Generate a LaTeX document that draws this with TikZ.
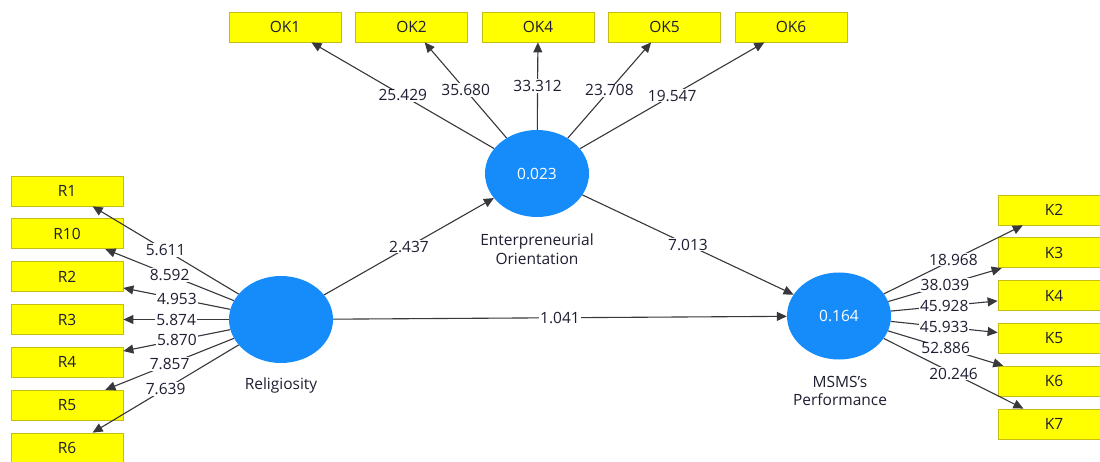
\documentclass[tikz,border=0pt]{standalone}
\usepackage{fontspec}
\setmainfont{Open Sans}
\usepackage{xcolor}
\usetikzlibrary{shapes,arrows.meta}

\definecolor{plsblue}{RGB}{22,140,250}
\definecolor{boxline}{RGB}{196,190,20}
\definecolor{boxfill}{RGB}{255,255,0}
\definecolor{linegray}{RGB}{55,55,60}
\definecolor{txtgray}{RGB}{30,30,50}

\begin{document}
\begin{tikzpicture}[x=1pt, y=-1pt, font=\fontsize{15.5}{18.5}\selectfont, text=txtgray]
\tikzstyle{indic}=[rectangle, draw=boxline, fill=boxfill, line width=0.8pt, minimum width=112pt, minimum height=30pt, inner sep=0pt]
\tikzstyle{latent}=[ellipse, fill=plsblue, minimum width=104pt, minimum height=87pt, inner sep=0pt, text=white]
\tikzstyle{drawstyle}=[draw=linegray, line width=1.1pt, -{Triangle[length=10pt, width=9pt]}]
\tikzstyle{val}=[fill=white, inner sep=1pt]

\useasboundingbox (0,0) rectangle (1100,462);

\node[latent] (Rel) at (281,319.5) {};
\node[latent] (EO) at (537,173.5) {0.023};
\node[latent] (Perf) at (839,316) {0.164};
\node (RelT) at (281,385) {Religiosity};
\node[align=center] (EOT) at (537,249) {Enterpreneurial\\Orientation};
\node[align=center] (PerfT) at (840,391) {MSMS's\\Performance};

% top indicators
\node[indic] (OK1) at (285,27) {OK1};
\node[indic] (OK2) at (411.5,27) {OK2};
\node[indic] (OK4) at (538,27) {OK4};
\node[indic] (OK5) at (664.5,27) {OK5};
\node[indic] (OK6) at (791,27) {OK6};
\draw[drawstyle] (EO) -- node[val] {25.429} (OK1);
\draw[drawstyle] (EO) -- node[val] {35.680} (OK2);
\draw[drawstyle] (EO) -- node[val] {33.312} (OK4);
\draw[drawstyle] (EO) -- node[val] {23.708} (OK5);
\draw[drawstyle] (EO) -- node[val] {19.547} (OK6);

% left indicators
\node[indic] (R1) at (67,191) {R1};
\node[indic] (R10) at (67,233.8) {R10};
\node[indic] (R2) at (67,276.7) {R2};
\node[indic] (R3) at (67,319.5) {R3};
\node[indic] (R4) at (67,362.3) {R4};
\node[indic] (R5) at (67,405.2) {R5};
\node[indic] (R6) at (67,448) {R6};
\draw[drawstyle] (Rel) -- node[val] {5.611} (R1);
\draw[drawstyle] (Rel) -- node[val] {8.592} (R10);
\draw[drawstyle] (Rel) -- node[val] {4.953} (R2);
\draw[drawstyle] (Rel) -- node[val] {5.874} (R3);
\draw[drawstyle] (Rel) -- node[val] {5.870} (R4);
\draw[drawstyle] (Rel) -- node[val] {7.857} (R5);
\draw[drawstyle] (Rel) -- node[val] {7.639} (R6);

% right indicators
\node[indic] (K2) at (1054,210) {K2};
\node[indic] (K3) at (1054,252.8) {K3};
\node[indic] (K4) at (1054,295.6) {K4};
\node[indic] (K5) at (1054,338.4) {K5};
\node[indic] (K6) at (1054,381.2) {K6};
\node[indic] (K7) at (1054,424) {K7};
\draw[drawstyle] (Perf) -- node[val] {18.968} (K2);
\draw[drawstyle] (Perf) -- node[val] {38.039} (K3);
\draw[drawstyle] (Perf) -- node[val] {45.928} (K4);
\draw[drawstyle] (Perf) -- node[val] {45.933} (K5);
\draw[drawstyle] (Perf) -- node[val] {52.886} (K6);
\draw[drawstyle] (Perf) -- node[val] {20.246} (K7);

% paths
\draw[drawstyle] (Rel) -- node[val] {2.437} (EO);
\draw[drawstyle] (EO) -- node[val] {7.013} (Perf);
\draw[drawstyle] (Rel) -- node[val] {1.041} (Perf);
\end{tikzpicture}
\end{document}
